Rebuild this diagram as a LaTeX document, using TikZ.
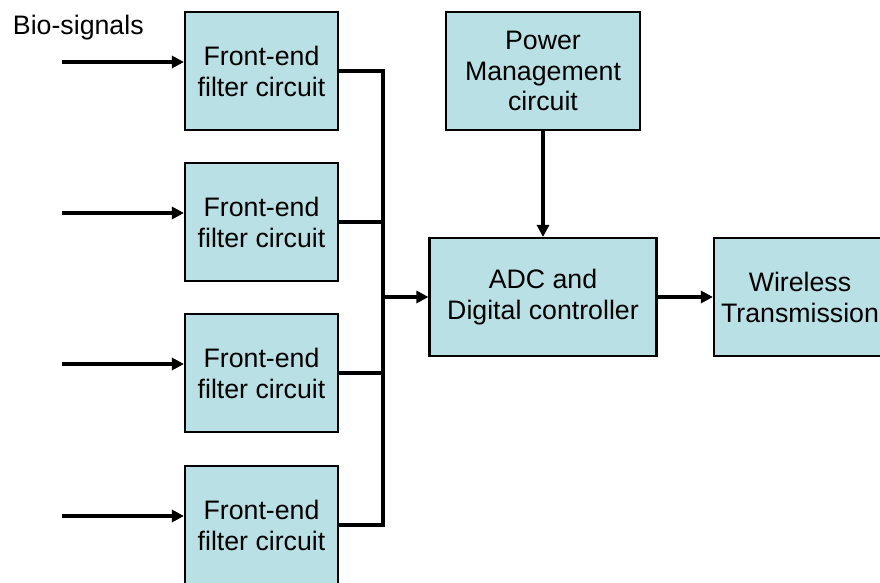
\documentclass[tikz,border=0pt]{standalone}
\usepackage{fontspec}
\setmainfont{Liberation Sans}
\usetikzlibrary{arrows.meta,positioning,calc}
\definecolor{boxfill}{HTML}{B9E0E4}

\begin{document}
\begin{tikzpicture}[
    x=0.025cm, y=-0.025cm,
    box/.style={rectangle, draw, line width=1.5pt, fill=boxfill, inner sep=0pt, align=center,
        font=\fontsize{19}{22}\selectfont},
    arrow/.style={-{Triangle[length=3mm, width=3mm]}, line width=2.4pt},
    wire/.style={line width=2.4pt}
]
\useasboundingbox (0,0) rectangle (880,583);

% Input side: four front-end filters
\node[font=\fontsize{19}{22}\selectfont, anchor=west] (bio) at (8, 28) {Bio-signals};

\node[box, minimum width=3.825cm, minimum height=2.95cm] (fe1) at (261.5, 71) {Front-end\\filter circuit};
\node[box, minimum width=3.825cm, minimum height=2.95cm] (fe2) at (261.5, 222) {Front-end\\filter circuit};
\node[box, minimum width=3.825cm, minimum height=2.95cm] (fe3) at (261.5, 373) {Front-end\\filter circuit};
\node[box, minimum width=3.825cm, minimum height=2.95cm] (fe4) at (261.5, 525) {Front-end\\filter circuit};

\coordinate (in1) at (62, 62);
\coordinate (in2) at (62, 213);
\coordinate (in3) at (62, 364);
\coordinate (in4) at (62, 516);
\draw[arrow] (in1) -- (in1 -| fe1.west);
\draw[arrow] (in2) -- (in2 -| fe2.west);
\draw[arrow] (in3) -- (in3 -| fe3.west);
\draw[arrow] (in4) -- (in4 -| fe4.west);

% Bus
\coordinate (busT) at (383, 71);
\coordinate (busB) at (383, 525);
\draw[wire] (fe1.east) -- (busT) -- (busB) -- (fe4.east);
\draw[wire] (fe2.east) -- (fe2.east -| busT);
\draw[wire] (fe3.east) -- (fe3.east -| busT);

% Controller, power and radio
\node[box, minimum width=4.85cm, minimum height=2.95cm] (pwr) at (543, 71) {Power\\Management\\circuit};
\node[box, minimum width=5.675cm, minimum height=2.95cm] (adc) at (543, 297) {ADC and\\Digital controller};
\node[box, minimum width=4.3cm, minimum height=2.95cm] (wls) at (800, 297) {Wireless\\Transmission};

\draw[arrow, line width=3pt] (busT |- adc.west) -- (adc.west);
\draw[arrow] (pwr.south) -- (adc.north);
\draw[arrow] (adc.east) -- (wls.west);

\end{tikzpicture}
\end{document}
